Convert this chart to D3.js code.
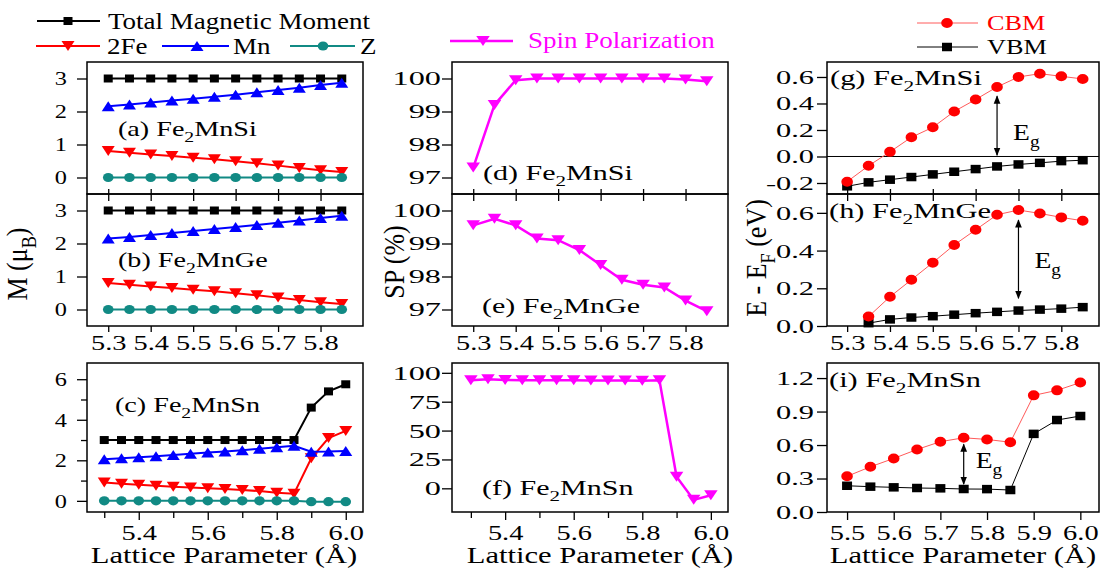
<!DOCTYPE html>
<html>
<head>
<meta charset="utf-8">
<script src="https://cdn.jsdelivr.net/npm/d3@7"></script>
<style>
  body { margin: 0; background: #fff; }
  svg text { font-family: "Liberation Serif", "Times New Roman", serif; fill: #000; }
</style>
</head>
<body>
<svg id="chart" width="1101" height="569"></svg>
<script>
// lattice parameters (Å)
const lat12 = [5.30, 5.35, 5.40, 5.45, 5.50, 5.55, 5.60, 5.65, 5.70, 5.75, 5.80, 5.85]
const lat15 = [5.30, 5.35, 5.40, 5.45, 5.50, 5.55, 5.60, 5.65, 5.70, 5.75, 5.80, 5.85, 5.90, 5.95, 6.00]
const latGe = [5.35, 5.40, 5.45, 5.50, 5.55, 5.60, 5.65, 5.70, 5.75, 5.80, 5.85]
const latSn = [5.50, 5.55, 5.60, 5.65, 5.70, 5.75, 5.80, 5.85, 5.90, 5.95, 6.00]

// magnetic moments (muB)
const siTotal = [3, 3, 3, 3, 3, 3, 3, 3, 3, 3, 3, 3]
const siFe = [0.80, 0.75, 0.70, 0.65, 0.60, 0.55, 0.49, 0.43, 0.36, 0.29, 0.22, 0.17]
const siMn = [2.16, 2.21, 2.27, 2.33, 2.39, 2.45, 2.51, 2.58, 2.65, 2.72, 2.80, 2.87]
const siZ = [0, 0, 0, 0, 0, 0, 0, 0, 0, 0, 0, 0]
const geTotal = [3, 3, 3, 3, 3, 3, 3, 3, 3, 3, 3, 3]
const geFe = [0.80, 0.75, 0.70, 0.65, 0.60, 0.55, 0.49, 0.43, 0.36, 0.29, 0.22, 0.17]
const geMn = [2.15, 2.20, 2.26, 2.32, 2.38, 2.44, 2.50, 2.56, 2.63, 2.70, 2.77, 2.84]
const geZ = [0, 0, 0, 0, 0, 0, 0, 0, 0, 0, 0, 0]
const snTotal = [3, 3, 3, 3, 3, 3, 3, 3, 3, 3, 3, 3, 4.6, 5.4, 5.75]
const snFe = [0.90, 0.84, 0.79, 0.75, 0.70, 0.66, 0.62, 0.58, 0.54, 0.48, 0.40, 0.35, 2.10, 3.10, 3.45]
const snMn = [2.05, 2.10, 2.15, 2.20, 2.26, 2.32, 2.38, 2.44, 2.50, 2.57, 2.64, 2.72, 2.42, 2.43, 2.46]
const snZ = [0, 0, 0, 0, 0, 0, 0, 0, 0, 0, 0, 0, -0.04, -0.04, -0.04]

// spin polarization (%)
const spSi = [97.3, 99.2, 99.95, 100, 100, 100, 100, 100, 100, 100, 99.97, 99.92]
const spGe = [99.55, 99.75, 99.55, 99.15, 99.1, 98.8, 98.35, 97.9, 97.75, 97.67, 97.27, 96.95]
const spSn = [93.5, 94.5, 93.8, 93.6, 93.5, 93.5, 93.6, 93.4, 93.4, 93.3, 93.2, 93.5, 10, -10, -6]

// band edges (eV)
const cbmSi = [-0.19, -0.07, 0.035, 0.145, 0.22, 0.34, 0.43, 0.525, 0.60, 0.625, 0.605, 0.585]
const vbmSi = [-0.225, -0.195, -0.175, -0.155, -0.135, -0.115, -0.095, -0.075, -0.06, -0.048, -0.035, -0.028]
const cbmGe = [0.05, 0.155, 0.245, 0.336, 0.43, 0.51, 0.59, 0.615, 0.597, 0.576, 0.558]
const vbmGe = [0.015, 0.035, 0.045, 0.052, 0.06, 0.068, 0.075, 0.082, 0.087, 0.092, 0.10]
const cbmSn = [0.32, 0.405, 0.48, 0.56, 0.63, 0.665, 0.65, 0.625, 1.045, 1.09, 1.16]
const vbmSn = [0.235, 0.227, 0.221, 0.215, 0.212, 0.206, 0.205, 0.197, 0.70, 0.824, 0.86]

// gap arrows: [lattice, bottom, top]
const gapSi = [5.65, 0.01, 0.455]
const gapGe = [5.70, 0.147, 0.562]
const gapSn = [5.75, 0.25, 0.607]

// tick values
const ticksLat6 = [5.3, 5.4, 5.5, 5.6, 5.7, 5.8]
const ticksLatMajor = [5.4, 5.6, 5.8, 6.0]
const ticksLatMinor = [5.3, 5.5, 5.7, 5.9]
const ticksLatSn = [5.5, 5.6, 5.7, 5.8, 5.9, 6.0]
const ticksM = [0, 1, 2, 3]
const ticksMSn = [0, 2, 4, 6]
const ticksMSnMinor = [1, 3, 5]
const ticksSP = [97, 98, 99, 100]
const ticksSPSn = [0, 25, 50, 75, 100]
const ticksE = [-0.2, 0, 0.2, 0.4, 0.6]
const ticksEGe = [0, 0.2, 0.4, 0.6]
const ticksESn = [0, 0.3, 0.6, 0.9, 1.2]

const BLACK = "#000", RED = "#ff0000", BLUE = "#0000ff", TEAL = "#118a84", MAG = "#ff00ff"

const svg = d3.select("#chart")

const cols = [{ x0: 87, x1: 363, ysx: 1.28, yoff: 20, lsx: 1.34 },
              { x0: 452, x1: 728, ysx: 1.7, yoff: 11, lsx: 1.43 },
              { x0: 827, x1: 1099, ysx: 1.6, yoff: 13, lsx: 1.45 }]
const rows = [{ y0: 62, y1: 194 }, { y0: 194, y1: 326 }, { y0: 363, y1: 512 }]

const fmt1 = d => d3.format(".1f")(d).replace("−", "-")
const fmt0 = d => String(d)

function markerPath(kind, w, h) {
  const a = w / 2, b = h / 2
  if (kind === "square") return `M${-a},${-b}H${a}V${b}H${-a}Z`
  if (kind === "down") return `M${-a},${-b}H${a}L0,${b}Z`
  if (kind === "up") return `M${-a},${b}H${a}L0,${-b}Z`
  return `M${-a},0A${a},${b} 0 1,0 ${a},0A${a},${b} 0 1,0 ${-a},0Z`
}

// text with optional subscripts; parts = [[str, isSub], ...]
function rich(parent, x, y, parts, o) {
  const size = o.size
  let tr = `translate(${x},${y}) scale(${o.sx || 1},1)`
  if (o.rot) tr += ` rotate(${o.rot})`
  const t = parent.append("text")
    .attr("transform", tr)
    .attr("font-size", size)
    .attr("text-anchor", o.anchor || "start")
    .style("fill", o.color || BLACK)
  let shifted = false
  parts.forEach(([s, sub]) => {
    const sp = t.append("tspan").text(s)
    if (sub) {
      sp.attr("font-size", size * 0.7).attr("dy", size * 0.3)
      shifted = true
    } else if (shifted) {
      sp.attr("dy", -size * 0.3)
      shifted = false
    }
  })
  return t
}

const S = (x, y, color, marker, mw, mh, lw, lineColor) => ({ x, y, color, marker, mw, mh, lw, lineColor: lineColor || color })

const momSeries = (tot, fe, mn, z, xs) => [
  S(xs, tot, BLACK, "square", 9, 8, 2),
  S(xs, fe, RED, "down", 13, 10, 2),
  S(xs, mn, BLUE, "up", 13, 10, 2),
  S(xs, z, TEAL, "circle", 10.6, 9.2, 2)
]

const panels = [
  { c: 0, r: 0, xd: [5.25, 5.9], yd: [-0.5, 3.5], yt: ticksM, yf: fmt0, series: momSeries(siTotal, siFe, siMn, siZ, lat12),
    label: [["(a) Fe"], ["2", true], ["MnSi"]], lx: 118, ly: 136, xb: "cross" },
  { c: 0, r: 1, xd: [5.25, 5.9], yd: [-0.5, 3.5], yt: ticksM, yf: fmt0, series: momSeries(geTotal, geFe, geMn, geZ, lat12),
    label: [["(b) Fe"], ["2", true], ["MnGe"]], lx: 118, ly: 267, xb: "mid" },
  { c: 0, r: 2, xd: [5.25, 6.05], yd: [-0.55, 6.8], yt: ticksMSn, ytm: ticksMSnMinor, yf: fmt0, series: momSeries(snTotal, snFe, snMn, snZ, lat15),
    label: [["(c) Fe"], ["2", true], ["MnSn"]], lx: 115, ly: 412, xb: "bottom", xt: ticksLatMajor, xtm: ticksLatMinor },
  { c: 1, r: 0, xd: [5.25, 5.9], yd: [96.5, 100.5], yt: ticksSP, yf: fmt0, series: [S(lat12, spSi, MAG, "down", 13.5, 10, 2.5)],
    label: [["(d) Fe"], ["2", true], ["MnSi"]], lx: 483, ly: 180, xb: "cross" },
  { c: 1, r: 1, xd: [5.25, 5.9], yd: [96.5, 100.5], yt: ticksSP, yf: fmt0, series: [S(lat12, spGe, MAG, "down", 13.5, 10, 2.5)],
    label: [["(e) Fe"], ["2", true], ["MnGe"]], lx: 482, ly: 313, xb: "mid" },
  { c: 1, r: 2, xd: [5.245, 6.05], yd: [-20.5, 108.5], yt: ticksSPSn, yf: fmt0, series: [S(lat15, spSn, MAG, "down", 13.5, 10, 2.5)],
    label: [["(f) Fe"], ["2", true], ["MnSn"]], lx: 482, ly: 495, xb: "bottom", xt: ticksLatMajor, xtm: ticksLatMinor },
  { c: 2, r: 0, xd: [5.253, 5.888], yd: [-0.283, 0.713], yt: ticksE, yf: fmt1,
    series: [S(lat12, vbmSi, BLACK, "square", 10, 8.5, 1), S(lat12, cbmSi, RED, "circle", 11.6, 10, 1, "#ff5a5a")],
    label: [["(g) Fe"], ["2", true], ["MnSi"]], lx: 830, ly: 85, xb: "cross", zero: true, gap: gapSi, gx: 16, gy: 140 },
  { c: 2, r: 1, xd: [5.253, 5.888], yd: [0, 0.70], yt: ticksEGe, yf: fmt1,
    series: [S(latGe, vbmGe, BLACK, "square", 10, 8.5, 1), S(latGe, cbmGe, RED, "circle", 11.6, 10, 1, "#ff5a5a")],
    label: [["(h) Fe"], ["2", true], ["MnGe"]], lx: 829, ly: 218, xb: "mid", gap: gapGe, gx: 16, gy: 268 },
  { c: 2, r: 2, xd: [5.457, 6.04], yd: [0, 1.335], yt: ticksESn, yf: fmt1,
    series: [S(latSn, vbmSn, BLACK, "square", 10, 8.5, 1), S(latSn, cbmSn, RED, "circle", 11.6, 10, 1, "#ff5a5a")],
    label: [["(i) Fe"], ["2", true], ["MnSn"]], lx: 829, ly: 387, xb: "bottom", xt: ticksLatSn, gap: gapSn, gx: 12, gy: 468 }
]

// arrowheads for the gap markers
const defs = svg.append("defs")
defs.append("marker").attr("id", "ah").attr("viewBox", "0 0 10 10").attr("refX", 9).attr("refY", 5)
  .attr("markerWidth", 7).attr("markerHeight", 7).attr("orient", "auto-start-reverse")
  .append("path").attr("d", "M0,1L10,5L0,9Z").attr("fill", BLACK)

function styleTicks(ax) {
  ax.select(".domain").remove()
  ax.selectAll("line").attr("stroke", BLACK).attr("stroke-width", 1.3)
}

function xLabels(ax, sx) {
  ax.selectAll("text").attr("font-size", 20).attr("transform", `scale(${sx},1)`).style("fill", BLACK)
}

panels.forEach(p => {
  const col = cols[p.c], row = rows[p.r]
  const x0 = col.x0, x1 = col.x1, y0 = row.y0, y1 = row.y1
  const xs = d3.scaleLinear().domain(p.xd).range([x0, x1])
  const ys = d3.scaleLinear().domain(p.yd).range([y1, y0])
  const g = svg.append("g")

  if (p.zero) {
    g.append("line").attr("x1", x0).attr("x2", x1).attr("y1", ys(0)).attr("y2", ys(0))
      .attr("stroke", BLACK).attr("stroke-width", 1)
  }

  // y axis
  const ya = g.append("g").attr("transform", `translate(${x0},0)`)
    .call(d3.axisLeft(ys).tickValues(p.yt).tickSize(10).tickFormat(p.yf))
  styleTicks(ya)
  ya.selectAll("text").attr("font-size", 19).attr("x", -col.yoff / col.ysx)
    .attr("dy", "0.34em").attr("transform", `scale(${col.ysx},1)`).style("fill", BLACK)
  if (p.ytm) {
    const ym = g.append("g").attr("transform", `translate(${x0},0)`)
      .call(d3.axisLeft(ys).tickValues(p.ytm).tickSize(6).tickFormat(""))
    styleTicks(ym)
  }

  // x axis
  if (p.xb === "cross") {
    const xa = g.append("g").attr("transform", `translate(0,${y1})`)
      .call(d3.axisTop(xs).tickValues(ticksLat6).tickSize(5).tickFormat(""))
    styleTicks(xa)
    const xb = g.append("g").attr("transform", `translate(0,${y1})`)
      .call(d3.axisBottom(xs).tickValues(ticksLat6).tickSize(7).tickFormat(""))
    styleTicks(xb)
  } else if (p.xb === "mid") {
    const xa = g.append("g").attr("transform", `translate(0,${y1})`)
      .call(d3.axisBottom(xs).tickValues(ticksLat6).tickSize(6).tickPadding(4).tickFormat(d3.format(".1f")))
    styleTicks(xa)
    xLabels(xa, 1.42)
  } else {
    const xa = g.append("g").attr("transform", `translate(0,${y1})`)
      .call(d3.axisBottom(xs).tickValues(p.xt).tickSize(8).tickPadding(6).tickFormat(d3.format(".1f")))
    styleTicks(xa)
    xLabels(xa, 1.42)
    if (p.xtm) {
      const xm = g.append("g").attr("transform", `translate(0,${y1})`)
        .call(d3.axisBottom(xs).tickValues(p.xtm).tickSize(6).tickFormat(""))
      styleTicks(xm)
    }
  }

  // series
  const line = d3.line().x(d => xs(d[0])).y(d => ys(d[1]))
  p.series.forEach(s => {
    const pts = d3.zip(s.x, s.y)
    g.append("path").datum(pts).attr("d", line)
      .attr("fill", "none").attr("stroke", s.lineColor).attr("stroke-width", s.lw)
    g.append("g").selectAll("path").data(pts).join("path")
      .attr("transform", d => `translate(${xs(d[0])},${ys(d[1])})`)
      .attr("d", markerPath(s.marker, s.mw, s.mh))
      .attr("fill", s.color)
  })

  // gap arrow
  if (p.gap) {
    const [gxv, gb, gt] = p.gap
    g.append("line").attr("x1", xs(gxv)).attr("x2", xs(gxv)).attr("y1", ys(gb)).attr("y2", ys(gt))
      .attr("stroke", BLACK).attr("stroke-width", 1.2)
      .attr("marker-start", "url(#ah)").attr("marker-end", "url(#ah)")
    rich(g, xs(gxv) + p.gx, p.gy, [["E"], ["g", true]], { size: 23, sx: 1.2 })
  }

  // frame
  g.append("rect").attr("x", x0).attr("y", y0).attr("width", x1 - x0).attr("height", y1 - y0)
    .attr("fill", "none").attr("stroke", BLACK).attr("stroke-width", 1.5)

  rich(g, p.lx, p.ly, p.label, { size: 21, sx: col.lsx })
})

// axis titles
const xTitleX = [224, 600, 963]
xTitleX.forEach(x => rich(svg, x, 563, [["Lattice Parameter (Å)"]], { size: 23, sx: 1.33, anchor: "middle" }))
rich(svg, 27, 264, [["M (μ"], ["B", true], [")"]], { size: 26, sx: 1.1, rot: -90, anchor: "middle" })
rich(svg, 404, 262, [["SP (%)"]], { size: 26, sx: 1.1, rot: -90, anchor: "middle" })
rich(svg, 766, 258, [["E - E"], ["F", true], [" (eV)"]], { size: 26, sx: 1.1, rot: -90, anchor: "middle" })

// legends
function legendItem(x1, x2, xm, y, color, marker, mw, mh, lw, lineColor) {
  svg.append("line").attr("x1", x1).attr("x2", x2).attr("y1", y).attr("y2", y)
    .attr("stroke", lineColor || color).attr("stroke-width", lw)
  svg.append("path").attr("transform", `translate(${xm},${y})`)
    .attr("d", markerPath(marker, mw, mh)).attr("fill", color)
}
legendItem(37, 100, 68, 21, BLACK, "square", 9, 8, 2)
rich(svg, 108, 29, [["Total Magnetic Moment"]], { size: 22.5, sx: 1.2 })
legendItem(36, 100, 68, 46, RED, "down", 13, 10, 2)
rich(svg, 107, 54, [["2Fe"]], { size: 22.5, sx: 1.2 })
legendItem(162, 229, 197, 46, BLUE, "up", 13, 10, 2)
rich(svg, 233, 54, [["Mn"]], { size: 22.5, sx: 1.2 })
legendItem(290, 355, 323, 46, TEAL, "circle", 10.6, 9.2, 2)
rich(svg, 360, 54, [["Z"]], { size: 22.5, sx: 1.2 })

legendItem(450, 513, 483, 41, MAG, "down", 13.5, 10, 2.5)
rich(svg, 528, 48, [["Spin Polarization"]], { size: 22.5, sx: 1.2, color: MAG })

legendItem(917, 978, 947, 23, RED, "circle", 11.6, 10, 1, "#ff5a5a")
rich(svg, 987, 30, [["CBM"]], { size: 21, sx: 1.25, color: RED })
legendItem(917, 978, 947, 47, BLACK, "square", 10, 8.5, 1)
rich(svg, 987, 54, [["VBM"]], { size: 21, sx: 1.25 })
</script>
</body>
</html>
